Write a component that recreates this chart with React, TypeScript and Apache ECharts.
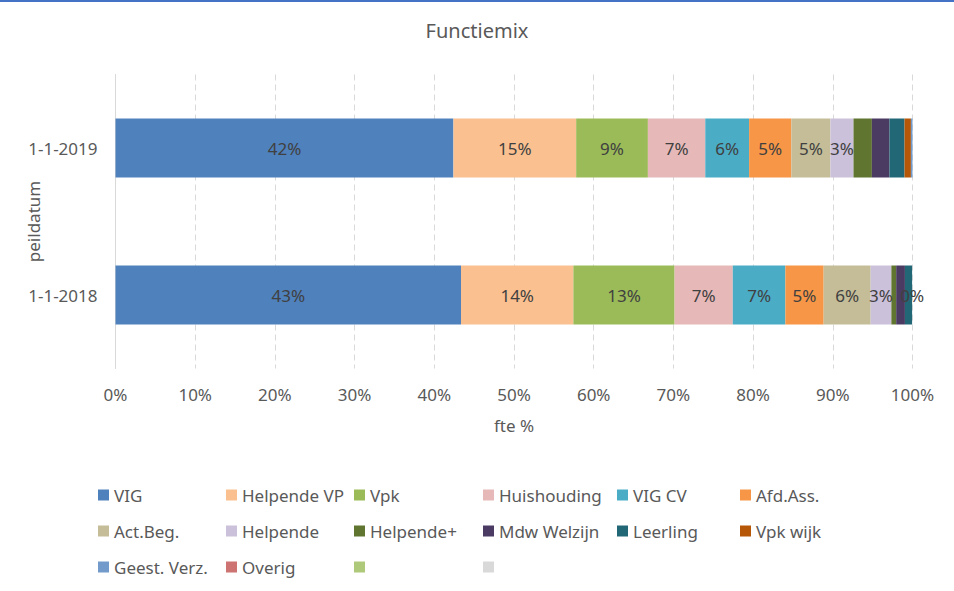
import React, { useEffect, useRef } from "react";
import * as echarts from "echarts";

const categories = ["1-1-2018", "1-1-2019"];
const seriesNames = [
  "VIG", "Helpende VP", "Vpk", "Huishouding", "VIG CV", "Afd.Ass.",
  "Act.Beg.", "Helpende", "Helpende+", "Mdw Welzijn", "Leerling", "Vpk wijk",
  "Geest. Verz.", "Overig", " ", "  ",
];
const colors = [
  "#4F81BD", "#FAC090", "#9BBB59", "#E6B9B8", "#4BACC6", "#F79646",
  "#C4BD97", "#CCC1DA", "#5F7530", "#4B3B62", "#226776", "#B65708",
  "#729ACA", "#CD7371", "#AFC97A", "#D9D9D9",
];
// values per series in %, for each peildatum
const values2018 = [43.35, 14.1, 12.7, 7.3, 6.6, 4.8, 5.9, 2.6, 0.6, 1.1, 0.9, 0, 0, 0, 0, 0];
const values2019 = [42.4, 15.4, 9.0, 7.2, 5.5, 5.3, 4.9, 2.9, 2.3, 2.2, 1.9, 0.8, 0.2, 0, 0, 0];
// which segments carry a data label
const labelled2018 = [1, 1, 1, 1, 1, 1, 1, 1, 0, 0, 0, 1, 0, 0, 0, 0];
const labelled2019 = [1, 1, 1, 1, 1, 1, 1, 1, 0, 0, 0, 0, 0, 0, 0, 0];
const xTicks = [0, 10, 20, 30, 40, 50, 60, 70, 80, 90, 100];

const legendColumns = [
  [0, 6, 12],
  [1, 7, 13],
  [2, 8, 14],
  [3, 9, 15],
  [4, 10],
  [5, 11],
];
const legendX = [98, 226, 354, 483, 617, 740];

const FONT = "'Noto Sans', sans-serif";
const TEXT = "#595959";
const FS = 17;

export default function App() {
  const ref = useRef<HTMLDivElement>(null);
  useEffect(() => {
    if (!ref.current) return;
    const chart = echarts.init(ref.current, undefined, { renderer: "svg" });
    const series = seriesNames.map((name, i) => ({
      name,
      type: "bar",
      stack: "total",
      barWidth: 59,
      itemStyle: { color: colors[i] },
      label: {
        show: false,
        position: "inside",
        color: "#404040",
        fontSize: FS,
        fontFamily: FONT,
        formatter: (p: any) => Math.round(p.value) + "%",
      },
      data: [
        { value: values2018[i], label: { show: !!labelled2018[i] } },
        { value: values2019[i], label: { show: !!labelled2019[i] } },
      ],
    }));
    const legends = legendColumns.map((col, c) => ({
      orient: "vertical",
      left: legendX[c],
      top: 486,
      itemWidth: 11,
      itemHeight: 11,
      itemGap: 18,
      icon: "rect",
      selectedMode: false,
      padding: 0,
      textStyle: { fontSize: FS, lineHeight: 18, fontFamily: FONT, color: TEXT },
      data: col.map((i) => seriesNames[i]),
    }));
    chart.setOption({
      animation: false,
      textStyle: { fontFamily: FONT },
      title: {
        text: "Functiemix",
        left: "center",
        top: 15,
        textStyle: { fontSize: 20, fontWeight: "normal", color: TEXT, fontFamily: FONT },
      },
      graphic: [
        { type: "rect", shape: { x: 0, y: 0, width: 954, height: 2 }, style: { fill: "#4472C4" } },
      ],
      grid: { left: 115.5, right: 41.5, top: 74.5, height: 294, outerBoundsMode: "none", containLabel: false },
      xAxis: {
        type: "value",
        min: 0,
        max: 100,
        interval: 10,
        name: "fte %",
        nameLocation: "middle",
        nameGap: 48,
        nameMoveOverlap: false,
        nameTextStyle: { fontSize: FS, color: TEXT, fontFamily: FONT },
        axisLine: { show: false },
        axisTick: { show: false },
        axisLabel: {
          fontSize: FS,
          color: TEXT,
          margin: 17,
          fontFamily: FONT,
          formatter: (v: number) => (xTicks.includes(v) ? v + "%" : ""),
        },
        splitLine: { show: true, lineStyle: { color: "#D9D9D9", type: [6, 4], width: 1 } },
      },
      yAxis: {
        type: "category",
        data: categories,
        name: "peildatum",
        nameLocation: "middle",
        nameGap: 74,
        nameRotate: 90,
        nameMoveOverlap: false,
        nameTextStyle: { fontSize: FS, color: TEXT, fontFamily: FONT },
        axisLine: { show: true, lineStyle: { color: "#D9D9D9", width: 1 } },
        axisTick: { show: false },
        axisLabel: { fontSize: FS, color: TEXT, margin: 18, fontFamily: FONT },
      },
      legend: legends,
      series,
    });
    return () => chart.dispose();
  }, []);
  return (
    <div
      ref={ref}
      style={{ position: "fixed", left: 0, top: 0, width: 954, height: 591, background: "#fff" }}
    />
  );
}
